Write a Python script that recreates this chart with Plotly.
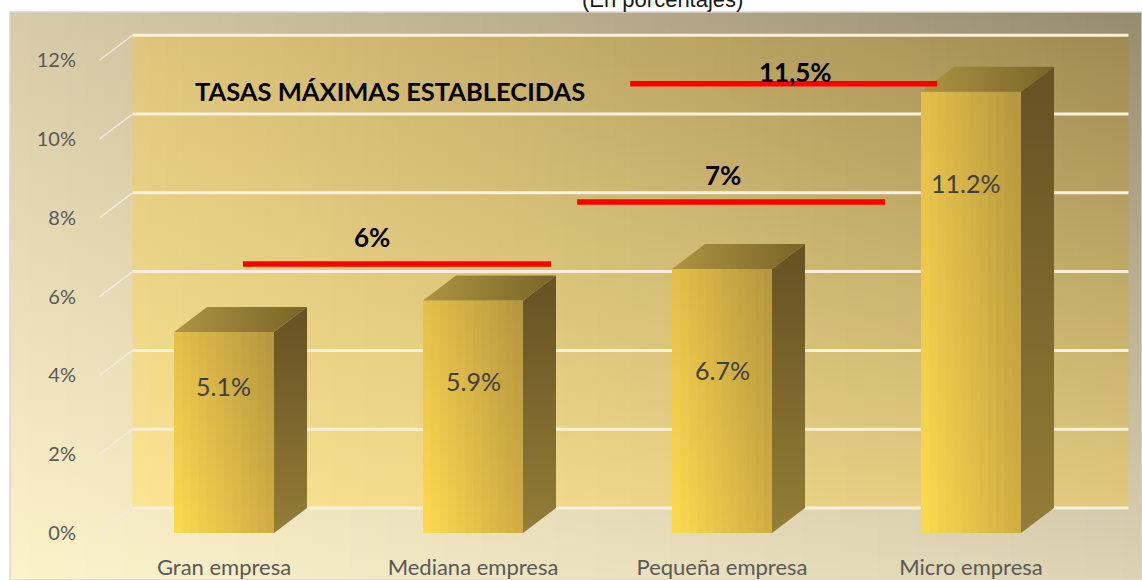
import plotly.graph_objects as go

# ---------------- data ----------------
categories = ["Gran empresa", "Mediana empresa", "Pequeña empresa", "Micro empresa"]
tasas = [5.1, 5.9, 6.7, 11.2]
tasa_labels = ["5.1%", "5.9%", "6.7%", "11.2%"]
y_tick_vals = [0, 2, 4, 6, 8, 10, 12]
y_tick_text = ["0%", "2%", "4%", "6%", "8%", "10%", "12%"]
max_rate_labels = ["6%", "7%", "11,5%"]
header_text = "TASAS MÁXIMAS ESTABLECIDAS"
subtitle_text = "(En porcentajes)"

# ---------------- layout geometry (axis units) ----------------
W, H = 1142, 580
M_L, M_T = 10, 12
PLOT_W, PLOT_H = W - M_L, H - M_T
X_RANGE = [-0.5181, 3.6867]
Y_RANGE = [-0.3807, 13.2234]
X_DOMAIN = [0.0751, 1.0]
Y_DOMAIN = [0.0563, 1.0]
DEPTH_X = 0.1325      # 3D depth offset in category units
DEPTH_Y = 0.6345      # 3D depth offset in percent units
HALF_W = 0.2008       # half bar width
WALL_X = [-0.5, 3.5]
# red "max rate" markers (positions in axis units)
rate_line_x = [(0.076, 1.313), (1.418, 2.655), (1.631, 2.864)]
rate_line_y = [6.83, 8.40, 11.40]
rate_label_pos = [(0.594, 7.52), (2.004, 9.09), (2.297, 11.70)]
header_pos = (0.667, 11.22)
value_label_y = [3.73, 3.86, 4.14, 8.88]
value_label_dx = [-0.004, 0.0, 0.0, -0.024]

FONT = "Lato, 'Open Sans', sans-serif"


def hex2rgb(h):
    h = h.lstrip("#")
    return tuple(int(h[i:i + 2], 16) for i in (0, 2, 4))


def mix(a, b, t):
    a, b = hex2rgb(a), hex2rgb(b)
    return "rgb(%d,%d,%d)" % tuple(round(a[i] + (b[i] - a[i]) * t) for i in range(3))


def bilinear(fig, x0, x1, y0, y1, bl, br, tl, tr, n, xa, ya):
    w = (x1 - x0) / n
    for k in range(n):
        a = x0 + k * w
        b = min(x1, x0 + (k + 1) * w + 0.6 * w)
        t = (k + 0.5) / n
        cb, ct = mix(bl, br, t), mix(tl, tr, t)
        fig.add_trace(go.Scatter(
            x=[a, b, b, a, a], y=[y0, y0, y1, y1, y0], mode="lines", fill="toself",
            line=dict(width=0), fillgradient=dict(type="vertical", colorscale=[[0, cb], [1, ct]]),
            hoverinfo="skip", showlegend=False, xaxis=xa, yaxis=ya))


fig = go.Figure()

# outer chart-area background (subplot x/y, unit square)
bilinear(fig, 0, 1, 0, 1, "#fdf3cb", "#ddd3b3", "#d8cba6", "#978b6e", 60, "x", "y")

# back wall
bilinear(fig, WALL_X[0] + DEPTH_X, WALL_X[1] + DEPTH_X, DEPTH_Y, 12 + DEPTH_Y,
         "#fbe492", "#e0c97e", "#dfc67b", "#9e8951", 60, "x2", "y2")

# back-wall gridlines and depth tick lines
for v in y_tick_vals:
    fig.add_trace(go.Scatter(
        x=[WALL_X[0] + DEPTH_X, WALL_X[1] + DEPTH_X], y=[v + DEPTH_Y, v + DEPTH_Y],
        mode="lines", line=dict(color="#f8f1de", width=3), hoverinfo="skip",
        showlegend=False, xaxis="x2", yaxis="y2"))
    fig.add_trace(go.Scatter(
        x=[WALL_X[0], WALL_X[0] + DEPTH_X], y=[v, v + DEPTH_Y],
        mode="lines", line=dict(color="#efece6", width=1.4), hoverinfo="skip",
        showlegend=False, xaxis="x2", yaxis="y2"))

# 3D bars
for i, v in enumerate(tasas):
    x0, x1 = i - HALF_W, i + HALF_W
    bilinear(fig, x0, x1, 0, v, "#fddc50", "#d0ac43", "#e6bf4a", "#b3953f", 12, "x2", "y2")
    # side face
    fig.add_trace(go.Scatter(
        x=[x1, x1 + DEPTH_X, x1 + DEPTH_X, x1, x1], y=[0, DEPTH_Y, v + DEPTH_Y, v, 0],
        mode="lines", fill="toself", line=dict(width=0),
        fillgradient=dict(type="vertical", colorscale=[[0, "#947d37"], [1, "#655123"]]),
        hoverinfo="skip", showlegend=False, xaxis="x2", yaxis="y2"))
    # top face
    fig.add_trace(go.Scatter(
        x=[x0, x1, x1 + DEPTH_X, x0 + DEPTH_X, x0], y=[v, v, v + DEPTH_Y, v + DEPTH_Y, v],
        mode="lines", fill="toself", line=dict(width=0),
        fillgradient=dict(type="horizontal", colorscale=[[0, "#ae9543"], [1, "#786427"]]),
        hoverinfo="skip", showlegend=False, xaxis="x2", yaxis="y2"))

# red max-rate lines
for (xa, xb), yv in zip(rate_line_x, rate_line_y):
    fig.add_trace(go.Scatter(
        x=[xa, xb], y=[yv, yv], mode="lines", line=dict(color="#ff0000", width=5.5),
        hoverinfo="skip", showlegend=False, xaxis="x2", yaxis="y2"))

annotations = []
for i, (txt, ly) in enumerate(zip(tasa_labels, value_label_y)):
    annotations.append(dict(x=i + value_label_dx[i], y=ly, xref="x2", yref="y2", text=txt,
                            showarrow=False, font=dict(family=FONT, size=25, color="#404040")))
for txt, (lx, ly) in zip(max_rate_labels, rate_label_pos):
    annotations.append(dict(x=lx, y=ly, xref="x2", yref="y2", text="<b>%s</b>" % txt,
                            showarrow=False, font=dict(family=FONT, size=26, color="#000000")))
annotations.append(dict(x=header_pos[0], y=header_pos[1], xref="x2", yref="y2",
                        text="<b>%s</b>" % header_text, showarrow=False,
                        font=dict(family=FONT, size=25.5, color="#000000")))
annotations.append(dict(x=(662 - M_L) / PLOT_W, y=1, xref="paper", yref="paper",
                        yanchor="bottom", yshift=-2, text=subtitle_text, showarrow=False,
                        font=dict(family="Liberation Sans, Arial, sans-serif", size=22,
                                  color="#1a1a1a")))

fig.update_layout(
    width=W, height=H,
    margin=dict(l=M_L, r=0, t=M_T, b=0, autoexpand=False),
    paper_bgcolor="#ffffff", plot_bgcolor="rgba(0,0,0,0)",
    showlegend=False, hovermode=False,
    annotations=annotations,
    shapes=[dict(type="rect", xref="paper", yref="paper", x0=0, x1=1, y0=0, y1=1,
                 line=dict(color="#d6d6d6", width=1.5), layer="above")],
    xaxis=dict(domain=[0, 1], range=[0, 1], visible=False, fixedrange=True),
    yaxis=dict(domain=[0, 1], range=[0, 1], visible=False, fixedrange=True),
    xaxis2=dict(domain=X_DOMAIN, range=X_RANGE, anchor="y2", tickvals=list(range(len(categories))),
                ticktext=categories, showgrid=False, zeroline=False, showline=False, ticks="",
                ticklabelstandoff=4, tickfont=dict(family=FONT, size=22, color="#595959"),
                fixedrange=True),
    yaxis2=dict(domain=Y_DOMAIN, range=Y_RANGE, anchor="x2", tickvals=y_tick_vals,
                ticktext=y_tick_text, showgrid=False, zeroline=False, showline=False, ticks="",
                ticklabelstandoff=18, tickfont=dict(family=FONT, size=20, color="#595959"),
                fixedrange=True),
)

fig.write_html("out.html", config={"displayModeBar": False, "staticPlot": True},
               post_script="document.body.style.margin='0';document.body.style.padding='0';")
